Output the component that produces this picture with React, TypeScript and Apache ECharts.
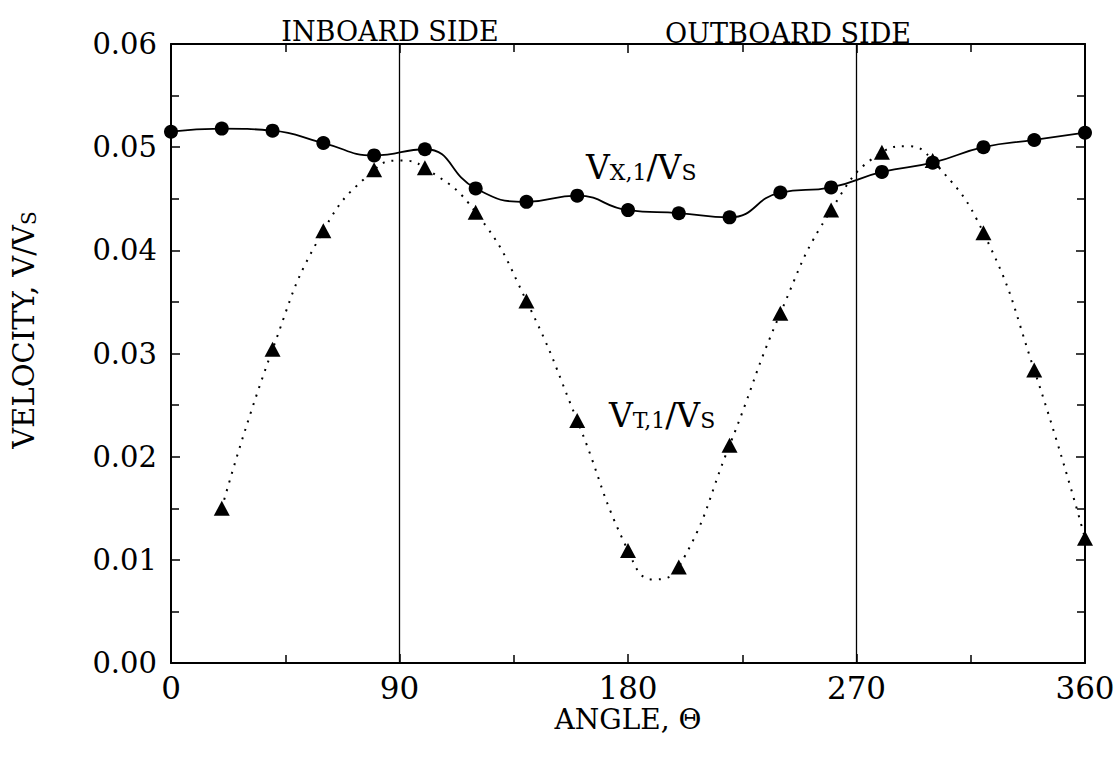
import { useEffect, useRef } from 'react';
import * as echarts from 'echarts';

const FONT = '"DejaVu Serif", serif';

// Circles: V_X,1 / V_S
const vxAngles = [0, 20, 40, 60, 80, 100, 120, 140, 160, 180, 200, 220, 240, 260, 280, 300, 320, 340, 360];
const vxValues = [0.0515, 0.0518, 0.0516, 0.0504, 0.0492, 0.0498, 0.0460, 0.0447, 0.0453, 0.0439, 0.0436, 0.0432, 0.0456, 0.0461, 0.0476, 0.0485, 0.0500, 0.0507, 0.0514];

// Triangles: V_T,1 / V_S
const vtAngles = [20, 40, 60, 80, 100, 120, 140, 160, 180, 200, 220, 240, 260, 280, 300, 320, 340, 360];
const vtValues = [0.0150, 0.0304, 0.0419, 0.0478, 0.0480, 0.0437, 0.0351, 0.0235, 0.0109, 0.0093, 0.0211, 0.0339, 0.0439, 0.0495, 0.0487, 0.0417, 0.0284, 0.0121];

// Dotted fitted curve through the triangles (incl. its extrema)
const vtCurveAngles = [20, 40, 60, 80, 90, 100, 120, 140, 160, 180, 190, 200, 220, 240, 260, 280, 290, 300, 320, 340, 360];
const vtCurveValues = [0.0150, 0.0304, 0.0419, 0.0478, 0.0487, 0.0480, 0.0437, 0.0351, 0.0235, 0.0109, 0.0081, 0.0093, 0.0211, 0.0339, 0.0439, 0.0495, 0.0501, 0.0487, 0.0417, 0.0284, 0.0121];

// Vertical divider lines (inboard / outboard)
const dividerAngles = [90, 270];

const xMin = 0;
const xMax = 360;
const xInterval = 90;
const yMin = 0;
const yMax = 0.06;
const yInterval = 0.01;

const sideLabels = ['INBOARD SIDE', 'OUTBOARD SIDE'];
const xTitle = 'ANGLE, Θ';

export default function App() {
  const ref = useRef<HTMLDivElement>(null);

  useEffect(() => {
    document.body.style.margin = '0';
    const chart = echarts.init(ref.current!, null, { renderer: 'svg' });

    const axisLine = { show: true, onZero: false, lineStyle: { color: '#000', width: 2 } };
    const tick = { show: true, inside: true, length: 9, lineStyle: { color: '#000', width: 1.5 } };
    const minor = { show: true, splitNumber: 2, length: 8, lineStyle: { color: '#000', width: 1.5 } };

    const bigSmall = (big: number, small: number) => ({
      a: { fontFamily: FONT, fontSize: big, fill: '#000', color: '#000', verticalAlign: 'bottom', lineHeight: big + 4 },
      b: { fontFamily: FONT, fontSize: small, fill: '#000', color: '#000', verticalAlign: 'bottom', lineHeight: small + 5 },
    });

    chart.setOption({
      animation: false,
      backgroundColor: '#fff',
      grid: { left: 171, right: 33, top: 44, bottom: 97 },
      xAxis: [
        {
          type: 'value', min: xMin, max: xMax, interval: xInterval, position: 'bottom',
          axisLine, axisTick: tick, minorTick: minor, splitLine: { show: false },
          axisLabel: { color: '#000', fontFamily: FONT, fontSize: 31, margin: 9 },
        },
        {
          type: 'value', min: xMin, max: xMax, interval: xInterval, position: 'top',
          axisLine, axisTick: tick, minorTick: minor, splitLine: { show: false },
          axisLabel: { show: false },
        },
      ],
      yAxis: [
        {
          type: 'value', min: yMin, max: yMax, interval: yInterval, position: 'left',
          axisLine, axisTick: tick, minorTick: minor, splitLine: { show: false },
          axisLabel: { color: '#000', fontFamily: FONT, fontSize: 29, margin: 14, formatter: (v: number) => v.toFixed(2) },
        },
        {
          type: 'value', min: yMin, max: yMax, interval: yInterval, position: 'right',
          axisLine, axisTick: tick, minorTick: minor, splitLine: { show: false },
          axisLabel: { show: false },
        },
      ],
      series: [
        {
          name: 'Vt curve',
          type: 'line',
          data: vtCurveAngles.map((a, i) => [a, vtCurveValues[i]]),
          smooth: 0.5,
          showSymbol: false,
          symbol: 'none',
          lineStyle: { color: '#000', width: 2, type: [2, 7] },
          z: 2,
        },
        {
          name: 'Vt',
          type: 'scatter',
          data: vtAngles.map((a, i) => [a, vtValues[i]]),
          symbol: 'triangle',
          symbolSize: [16, 15],
          itemStyle: { color: '#000', opacity: 1 },
          z: 3,
        },
        {
          name: 'Vx',
          type: 'line',
          data: vxAngles.map((a, i) => [a, vxValues[i]]),
          smooth: 0.5,
          symbol: 'circle',
          symbolSize: 14,
          itemStyle: { color: '#000', opacity: 1 },
          lineStyle: { color: '#000', width: 1.8 },
          z: 4,
          markLine: {
            silent: true,
            symbol: ['none', 'none'],
            label: { show: false },
            lineStyle: { color: '#000', width: 1.3, type: 'solid' },
            data: dividerAngles.map((a) => ({ xAxis: a })),
          },
        },
      ],
      graphic: [
        {
          type: 'text', x: 390, y: 31,
          style: { text: sideLabels[0], fill: '#000', font: `27px ${FONT}`, textAlign: 'center', textVerticalAlign: 'middle' },
        },
        {
          type: 'text', x: 788, y: 33,
          style: { text: sideLabels[1], fill: '#000', font: `27px ${FONT}`, textAlign: 'center', textVerticalAlign: 'middle' },
        },
        {
          type: 'text', x: 628, y: 719,
          style: { text: xTitle, fill: '#000', font: `28px ${FONT}`, textAlign: 'center', textVerticalAlign: 'middle' },
        },
        {
          type: 'text', x: 22, y: 330, rotation: Math.PI / 2,
          style: {
            text: '{a|VELOCITY, V/V}{b|S}',
            textAlign: 'center', textVerticalAlign: 'middle',
            rich: bigSmall(29, 20),
          },
        },
        {
          type: 'text', x: 586, y: 165,
          style: {
            text: '{a|V}{b|X,1}{a|/V}{b|S}',
            textAlign: 'left', textVerticalAlign: 'middle',
            rich: bigSmall(33, 22),
          },
        },
        {
          type: 'text', x: 609, y: 413,
          style: {
            text: '{a|V}{b|T,1}{a|/V}{b|S}',
            textAlign: 'left', textVerticalAlign: 'middle',
            rich: bigSmall(33, 22),
          },
        },
      ],
    });

    return () => chart.dispose();
  }, []);

  return <div ref={ref} style={{ width: 1118, height: 760 }} />;
}
